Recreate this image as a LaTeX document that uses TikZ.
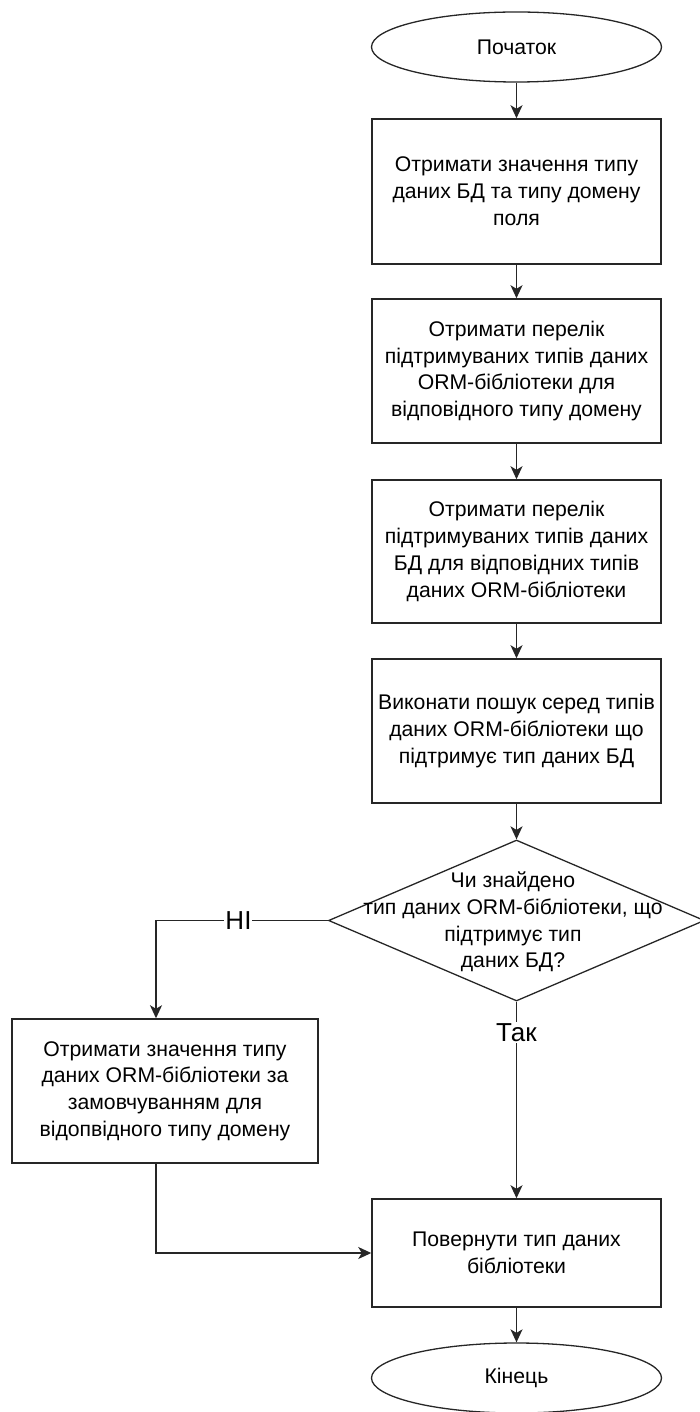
\documentclass[tikz,border=0pt]{standalone}
\usepackage{fontspec}
\setmainfont{Liberation Sans}
\usetikzlibrary{shapes.geometric,arrows.meta}
\begin{document}
\begin{tikzpicture}[x=1pt,y=-1pt,
  every node/.style={font=\fontsize{21.2}{26.8}\selectfont, align=center, text=black},
  proc/.style={draw=black!85, line width=1.5pt, rectangle, minimum width=289pt, inner sep=0pt},
  term/.style={draw=black!85, line width=1.3pt, ellipse, minimum width=290pt, minimum height=70pt, inner sep=0pt},
  decision/.style={draw=black!85, line width=1.3pt, diamond, minimum width=376pt, minimum height=161pt, inner sep=0pt},
  conn/.style={draw=black!85, line width=1.5pt, -{Stealth[length=13pt,width=12pt,inset=3.5pt]}},
  lbl/.style={fill=white, inner sep=1pt, font=\fontsize{26}{30}\selectfont}]
\useasboundingbox (0,0) rectangle (699,1412);
\node[term] (start) at (516.5,47) {Початок};
\node[proc, minimum height=145pt] (b1) at (516.5,191.5) {Отримати значення типу\\даних БД та типу домену\\поля};
\node[proc, minimum height=144pt] (b2) at (516.5,371) {Отримати перелік\\підтримуваних типів даних\\ORM-бібліотеки для\\відповідного типу домену};
\node[proc, minimum height=143pt] (b3) at (516.5,551.5) {Отримати перелік\\підтримуваних типів даних\\БД для відповідних типів\\даних ORM-бібліотеки};
\node[proc, minimum height=144pt] (b4) at (516.5,731) {Виконати пошук серед типів\\даних ORM-бібліотеки що\\підтримує тип даних БД};
\node[decision] (dec) at (516.5,920.5) {};
\node (dect) at (513,922) {Чи знайдено\\тип даних ORM-бібліотеки, що\\підтримує тип\\даних БД?};
\node[proc, minimum width=306pt, minimum height=144pt] (alt) at (165,1091) {Отримати значення типу\\даних ORM-бібліотеки за\\замовчуванням для\\відопвідного типу домену};
\node[proc, minimum height=108pt] (ret) at (516.5,1253) {Повернути тип даних\\бібліотеки};
\node[term] (end) at (516.5,1378) {Кінець};
\draw[conn] (start) -- (b1);
\draw[conn] (b1) -- (b2);
\draw[conn] (b2) -- (b3);
\draw[conn] (b3) -- (b4);
\draw[conn] (b4) -- (dec);
\draw[conn] (dec.south) -- node[lbl, pos=0.157] (yes) {Так} (ret);
\draw[conn] (dec.west) -| node[lbl, pos=0.26] (no) {НІ} ([xshift=-9pt]alt.north);
\draw[conn] ([xshift=-9pt]alt.south) |- (ret.west);
\draw[conn] (ret) -- (end);
\end{tikzpicture}
\end{document}
